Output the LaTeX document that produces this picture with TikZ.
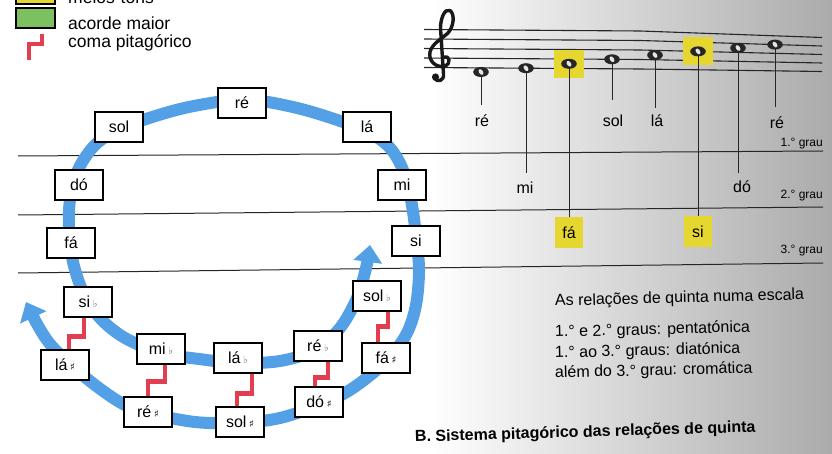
\documentclass[tikz,border=0pt]{standalone}
\usepackage{fontspec}
\setmainfont{Liberation Sans}
\newfontfamily\djv{DejaVu Sans}
\usetikzlibrary{arrows.meta,calc}
\definecolor{bandblue}{RGB}{84,160,230}
\definecolor{comared}{RGB}{226,62,80}
\definecolor{hiyellow}{RGB}{230,214,48}
\definecolor{chordgreen}{RGB}{125,192,95}
\newcommand{\myflat}{\,{\djv\fontsize{10}{10}\selectfont\color{black!55}♭}}
\newcommand{\mysharp}{\,{\djv\fontsize{10}{10}\selectfont ♯}}
\begin{document}
\begin{tikzpicture}[x=1pt,y=-1pt,
  nb/.style={draw, line width=1.1pt, fill=white, minimum width=48pt, minimum height=30pt, inner sep=2pt, font=\fontsize{16}{16}\selectfont},
  band/.style={line width=12pt, draw=bandblue},
  coma/.style={draw=comared, line width=4.5pt},
  grade/.style={line width=1pt, draw=black!85},
  staffl/.style={line width=1.1pt, draw=black!85},
  stem/.style={line width=1pt, draw=black!85},
  clefline/.style={line width=3.4pt, draw=black!90, line cap=round, line join=round},
  lab/.style={font=\fontsize{16}{16}\selectfont, inner sep=0pt, anchor=base},
  hl/.style={fill=hiyellow, minimum width=28pt, minimum height=31pt, inner sep=0pt, font=\fontsize{16}{16}\selectfont},
  txt/.style={font=\fontsize{16}{19}\selectfont, anchor=base west, inner sep=0pt},
  legtxt/.style={font=\fontsize{17.5}{18}\selectfont, anchor=base west, inner sep=0pt},
  grd/.style={font=\fontsize{12}{12}\selectfont, anchor=base east, inner sep=0pt}
]
\path[use as bounding box] (0,0) rectangle (832,454);
\clip (0,0) rectangle (832,454);
\fill[white] (0,0) rectangle (832,454);
\shade[left color=white, right color=black!33] (430,0) rectangle (832,454);

% legend
\draw[line width=1.5pt, fill=hiyellow] (16,-12) rectangle (55,4);
\node[legtxt] (lgmt) at (68,4) {meios-tons};
\draw[line width=1.5pt, fill=chordgreen] (16,8) rectangle (55,28);
\node[legtxt] (lgac) at (68,29.5) {acorde maior};
\draw[coma] (42,34) -- (42,44) -- (29,44) -- (29,60);
\node[legtxt] (lgcp) at (68,48) {coma pitagórico};

% grade lines
\draw[grade] (18,156) -- (823,151);
\draw[grade] (18,215) -- (823,207);
\draw[grade] (18,273) -- (823,263);
\node[grd] (gr1) at (823,147) {1.° grau};
\node[grd] (gr2) at (823,199) {2.° grau};
\node[grd] (gr3) at (823,254) {3.° grau};

% staff
\foreach \a/\b/\c in {29.5/31/37.5, 39/40.5/46, 48.5/50/54.5, 58/59.5/63, 67.5/69/71.5}
  \draw[staffl] (424,\a) -- (640,\b) -- (822,\c);

% treble clef drawn as a shape
\draw[clefline] (444,57) .. controls (449.5,55) and (451.5,63.5) .. (445,66)
  .. controls (436.5,68.5) and (428,61) .. (430,52)
  .. controls (432,44) and (441,39) .. (447.5,33.5)
  .. controls (454,27) and (455,14) .. (450,10.5)
  .. controls (444.5,8) and (440.5,19) .. (440.5,28)
  -- (443.5,74) .. controls (444.2,81) and (437.5,82.5) .. (434.5,78.5);
\fill[black!90] (435.5,77) circle (3.6pt);

\coordinate (n1) at (481,72);
\coordinate (n2) at (526,68.2);
\coordinate (n3) at (569,63.8);
\coordinate (n4) at (612,59.3);
\coordinate (n5) at (655,55.1);
\coordinate (n6) at (698,51.4);
\coordinate (n7) at (738,48);
\coordinate (n8) at (775,44.6);

\node[hl, minimum width=30pt, minimum height=28pt] (h3) at (n3) {};
\node[hl, minimum width=30pt, minimum height=28pt] (h6) at (n6) {};

\node[lab] (l1) at (482,127) {ré};
\node[lab] (l2) at (525,194) {mi};
\node[hl] (l3) at (569,232.5) {fá};
\node[lab] (l4) at (613,127) {sol};
\node[lab] (l5) at (657,127) {lá};
\node[hl] (l6) at (698,232) {si};
\node[lab] (l7) at (742,193) {dó};
\node[lab] (l8) at (777,129) {ré};

\draw[stem] (n1) -- ++(0,33);
\draw[stem] (n2) -- ++(0,105);
\draw[stem] (n3) -- (n3 |- l3.north);
\draw[stem] (n4) -- ++(0,41);
\draw[stem] (n5) -- ++(0,53);
\draw[stem] (n6) -- (n6 |- l6.north);
\draw[stem] (n7) -- ++(0,125);
\draw[stem] (n8) -- ++(0,62);

\foreach \n in {n1,n2,n3,n4,n5,n6,n7,n8}{
  \fill[black!85] (\n) ellipse [x radius=7.8pt, y radius=5pt];
  \fill[white!90!black, rotate around={35:(\n)}] (\n) ellipse [x radius=2pt, y radius=3.2pt];
}

% spiral band
\draw[band, {Triangle[width=28pt,length=17pt]}-{Triangle[width=28pt,length=17pt]}] plot[smooth, tension=0.55] coordinates {
 (370,245) (366,268) (357,298) (340,328) (315,350) (280,361) (238,363)
 (199,359) (161,353) (125,338) (100,318) (83,292) (73,262) (69,232)
 (70,200) (78,170) (95,145) (119,129) (143,120) (180,109) (217,102)
 (242,100) (268,102) (305,110) (343,122) (370,133) (390,148) (403,170)
 (411,200) (416,235) (419,270) (416,305) (407,333) (390,357) (368,377)
 (345,393) (319,405) (280,418) (240,423) (195,422) (148,413) (123,404)
 (95,385) (70,364) (50,344) (37,324) (26,302)};

% boxes
\node[nb] (re)    at (242,103) {ré};
\node[nb] (sol)   at (119,127) {sol};
\node[nb] (la)    at (367,127) {lá};
\node[nb] (do)    at (79,185)  {dó};
\node[nb] (mi)    at (402,185) {mi};
\node[nb] (fa)    at (71,243)  {fá};
\node[nb] (si)    at (416,241) {si};
\node[nb] (sib)   at (88,302)  {si\myflat};
\node[nb] (lasus) at (65,365)  {lá\mysharp};
\node[nb] (mib)   at (161,349) {mi\myflat};
\node[nb] (lab)   at (238,358) {lá\myflat};
\node[nb] (reb)   at (318,346) {ré\myflat};
\node[nb] (solb)  at (377,296) {sol\myflat};
\node[nb] (fasus) at (386,358) {fá\mysharp};
\node[nb] (resus) at (148,412) {ré\mysharp};
\node[nb] (solsus) at (240,422) {sol\mysharp};
\node[nb] (dosus) at (319,402) {dó\mysharp};

% pythagorean commas
\draw[coma] ([xshift=-4pt]sib.south) -- ++(0,19) -| ([xshift=4pt]lasus.north);
\draw[coma] ([xshift=4pt]mib.south) -- ++(0,17) -| (resus.north);
\draw[coma] ([xshift=14pt]lab.south) -- ++(0,20) -| ([xshift=-3pt]solsus.north);
\draw[coma] ([xshift=10pt]reb.south) -- ++(0,16) -| ([xshift=-4pt]dosus.north);
\draw[coma] ([xshift=11pt]solb.south) -- ++(0,15) -| ([xshift=-8pt]fasus.north);

% texts
\node[txt, rotate=1.5] (t0) at (555,306) {As relações de quinta numa escala};
\node[txt, rotate=1.5] (t1) at (555,337) {1.° e 2.° graus: pentatónica};
\node[txt, rotate=1.5] (t2) at (555,358) {1.° ao 3.° graus: diatónica};
\node[txt, rotate=1.5] (t3) at (555,378) {além do 3.° grau: cromática};
\node[txt, font=\bfseries\fontsize{16}{19}\selectfont, rotate=1.7] (title) at (415,442) {B. Sistema pitagórico das relações de quinta};
\end{tikzpicture}
\end{document}
